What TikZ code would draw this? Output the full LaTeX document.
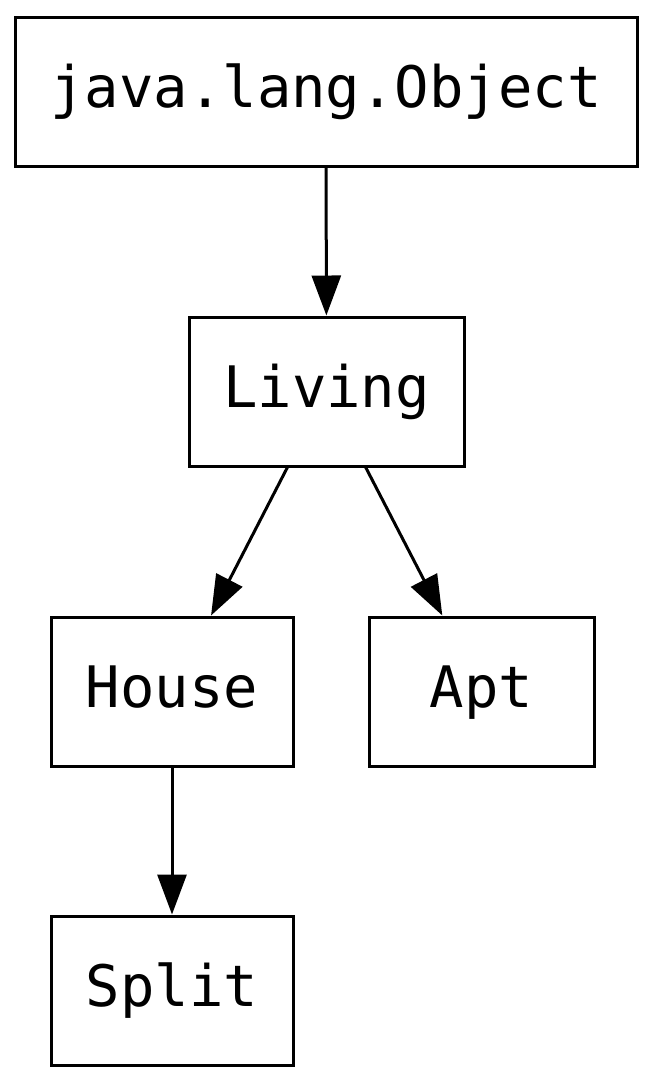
\documentclass[tikz,border=0pt]{standalone}
\usepackage{fontspec}
\setmonofont{DejaVu Sans Mono}
\usetikzlibrary{arrows.meta}
\tikzset{>={Triangle[length=20pt,width=14.5pt]}}
\tikzset{classbox/.style={draw=black, line width=1.5pt, fill=white, inner sep=0pt,
    minimum height=74.5pt, text height=22pt, text depth=6pt,
    font=\ttfamily\fontsize{28.6}{34}\selectfont}}

\begin{document}
\begin{tikzpicture}[x=0.5pt,y=-0.5pt]
    \useasboundingbox (0,0) rectangle (654,1083);

    % Define the classes of the hierarchy
    \node[classbox, minimum width=311pt] (Object) at (326,91.5) {java.lang.Object};
    \node[classbox, minimum width=137.5pt] (Living) at (326.5,391.5) {Living};
    \node[classbox, minimum width=121pt] (House) at (172,691.5) {House};
    \node[classbox, minimum width=112.5pt] (Apt) at (481.5,691.5) {Apt};
    \node[classbox, minimum width=121pt] (Split) at (172,990.5) {Split};

    % Draw the inheritance arrows
    \draw[->, line width=1.5pt] (Object) -- (Living);
    \draw[->, line width=1.5pt] (Living) -- (House);
    \draw[->, line width=1.5pt] (Living) -- (Apt);
    \draw[->, line width=1.5pt] (House) -- (Split);

\end{tikzpicture}
\end{document}
